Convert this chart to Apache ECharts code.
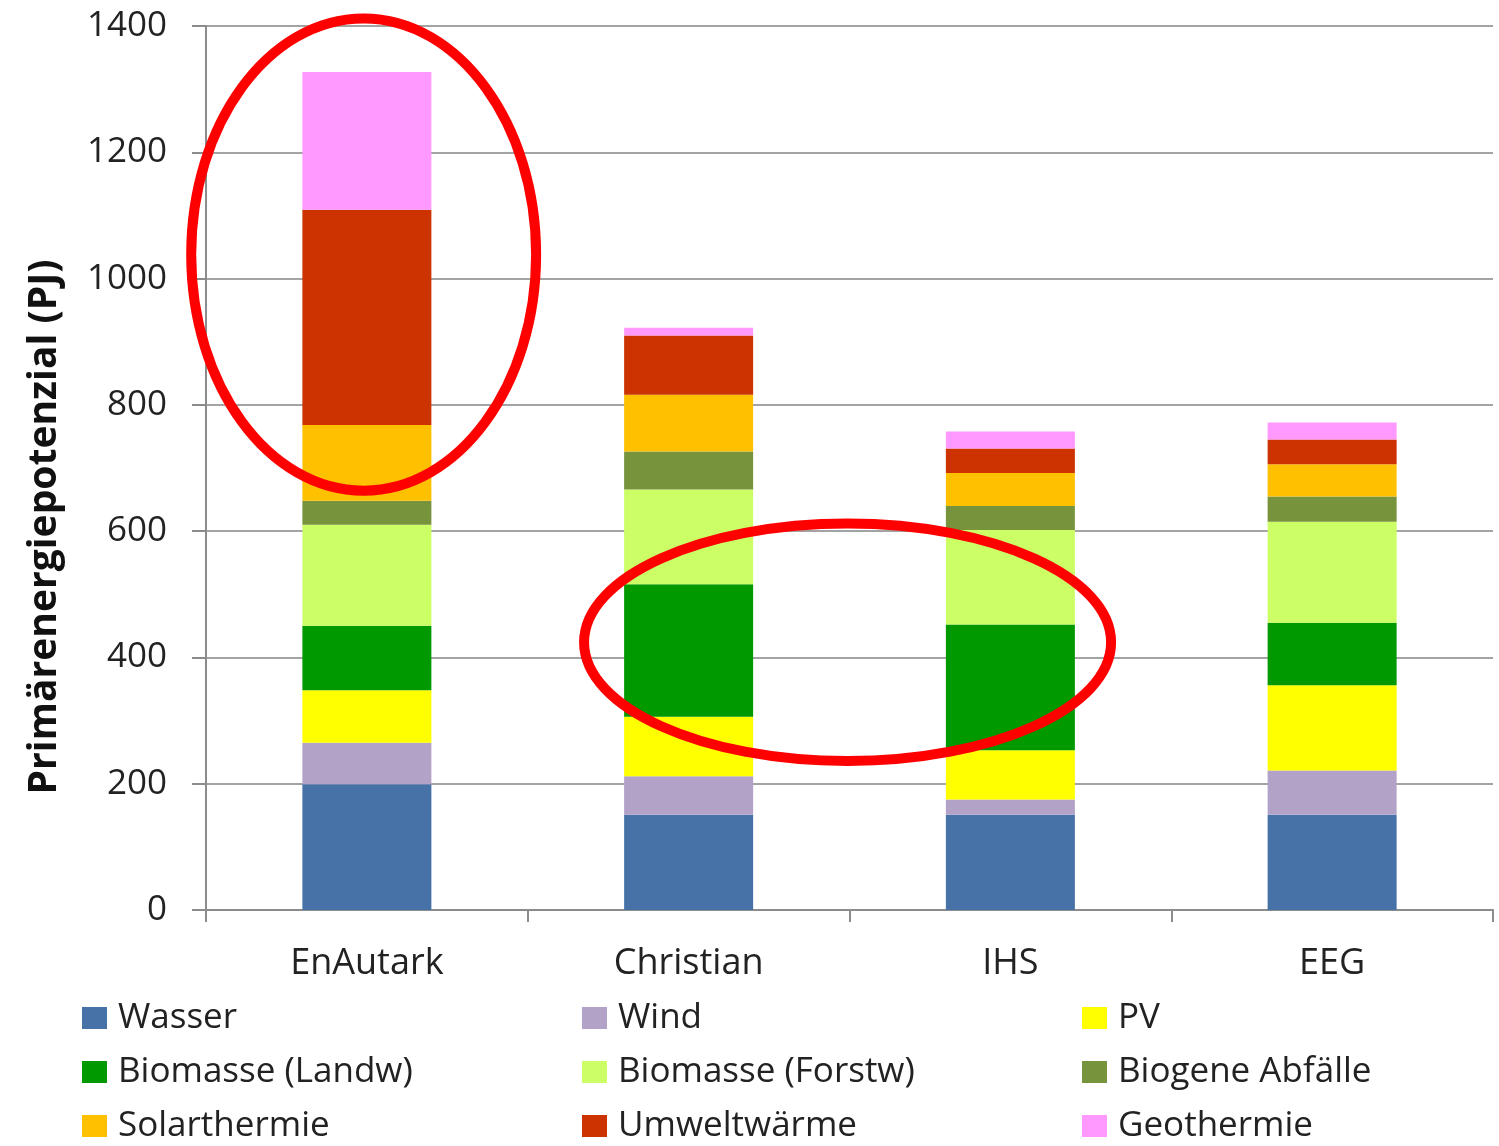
<!DOCTYPE html>
<html>
<head>
<meta charset="utf-8">
<title>Primärenergiepotenzial</title>
<script src="https://cdn.jsdelivr.net/npm/echarts@6/dist/echarts.min.js"></script>
<style>
  html, body { margin: 0; padding: 0; background: #ffffff; }
  #chart { width: 1499px; height: 1146px; }
</style>
</head>
<body>
<div id="chart"></div>
<script>
// Studies compared (x axis)
const categories = ['EnAutark', 'Christian', 'IHS', 'EEG'];

// Potential per source, PJ
const wasser   = [199, 151, 151, 151];
const wind     = [66, 61, 24, 70];
const pv       = [83, 94, 78, 135];
const landw    = [102, 210, 199, 99];
const forstw   = [160, 150, 150, 160];
const biogen   = [38, 60, 38, 40];
const solar    = [120, 90, 52, 51];
const umwelt   = [341, 94, 39, 39];
const geo      = [218, 12, 27, 27];

// Y axis ticks
const yTicks = [0, 200, 400, 600, 800, 1000, 1200, 1400];

const seriesDefs = [
  { name: 'Wasser',             data: wasser, color: '#4672A8' },
  { name: 'Wind',               data: wind,   color: '#B3A2C7' },
  { name: 'PV',                 data: pv,     color: '#FFFF00' },
  { name: 'Biomasse (Landw)',   data: landw,  color: '#009900' },
  { name: 'Biomasse (Forstw)',  data: forstw, color: '#CCFF66' },
  { name: 'Biogene Abfälle',    data: biogen, color: '#77933C' },
  { name: 'Solarthermie',       data: solar,  color: '#FFC000' },
  { name: 'Umweltwärme',        data: umwelt, color: '#CC3300' },
  { name: 'Geothermie',         data: geo,    color: '#FF99FF' }
];

// Highlight rings: centre given as [category index, value], radii as [category widths, value units]
const highlights = [
  { center: [-0.01, 1038], radius: [0.536, 374] },
  { center: [1.494, 424],  radius: [0.819, 188] }
];

const FONT = '"Open Sans", "DejaVu Sans", sans-serif';
const TEXT = '#222222';

const chart = echarts.init(document.getElementById('chart'), null, { renderer: 'canvas' });

function legendFor(names, left) {
  return {
    orient: 'vertical',
    left: left,
    top: 1000,
    height: 146,
    padding: 0,
    itemGap: 18,
    itemWidth: 25,
    itemHeight: 22,
    icon: 'rect',
    selectedMode: false,
    data: names,
    textStyle: {
      fontFamily: FONT,
      fontSize: 35,
      color: TEXT,
      lineHeight: 36,
      padding: [0, 0, 0, 6]
    }
  };
}

chart.setOption({
  backgroundColor: '#ffffff',
  animation: false,
  color: seriesDefs.map(s => s.color),
  grid: { left: 206, right: 6, top: 26, bottom: 236, containLabel: false },
  legend: [
    legendFor(['Wasser', 'Biomasse (Landw)', 'Solarthermie'], 82),
    legendFor(['Wind', 'Biomasse (Forstw)', 'Umweltwärme'], 582),
    legendFor(['PV', 'Biogene Abfälle', 'Geothermie'], 1082)
  ],
  xAxis: {
    type: 'category',
    data: categories,
    boundaryGap: true,
    axisLine: { show: true, lineStyle: { color: '#8c8c8c', width: 2 } },
    axisTick: { show: true, length: 12, interval: 0, alignWithLabel: false, lineStyle: { color: '#8c8c8c', width: 2 } },
    axisLabel: { fontFamily: FONT, fontSize: 36, color: TEXT, margin: 36, interval: 0 },
    splitLine: { show: false }
  },
  yAxis: {
    type: 'value',
    min: yTicks[0],
    max: yTicks[yTicks.length - 1],
    interval: yTicks[1] - yTicks[0],
    name: 'Primärenergiepotenzial (PJ)',
    nameLocation: 'middle',
    nameRotate: 90,
    nameGap: 142,
    nameTextStyle: {
      fontFamily: FONT,
      fontSize: 39,
      fontWeight: 'bold',
      color: '#111111',
      padding: [0, 118, 0, 0]
    },
    axisLine: { show: true, lineStyle: { color: '#8c8c8c', width: 2 } },
    axisTick: { show: true, length: 14, lineStyle: { color: '#8c8c8c', width: 2 } },
    axisLabel: {
      fontFamily: FONT,
      fontSize: 35,
      color: TEXT,
      margin: 39,
      formatter: v => String(v)
    },
    splitLine: { show: true, lineStyle: { color: '#a3a3a3', width: 2 } }
  },
  series: seriesDefs.map(s => ({
    name: s.name,
    type: 'bar',
    stack: 'total',
    barWidth: 129,
    data: s.data,
    itemStyle: { color: s.color },
    emphasis: { disabled: true }
  }))
});

// Place the red rings in data space through the axes
function toPixel(idx, value) {
  const a = chart.convertToPixel({ gridIndex: 0 }, [0, value]);
  const b = chart.convertToPixel({ gridIndex: 0 }, [1, value]);
  return [a[0] + (b[0] - a[0]) * idx, a[1]];
}

const step = toPixel(1, 0)[0] - toPixel(0, 0)[0];
const unit = toPixel(0, 0)[1] - toPixel(0, 1)[1];

chart.setOption({
  graphic: highlights.map(h => {
    const c = toPixel(h.center[0], h.center[1]);
    return {
      type: 'ellipse',
      z: 100,
      silent: true,
      shape: { cx: c[0], cy: c[1], rx: h.radius[0] * step, ry: h.radius[1] * unit },
      style: { fill: null, stroke: '#ff0000', lineWidth: 10 }
    };
  })
});
</script>
</body>
</html>
